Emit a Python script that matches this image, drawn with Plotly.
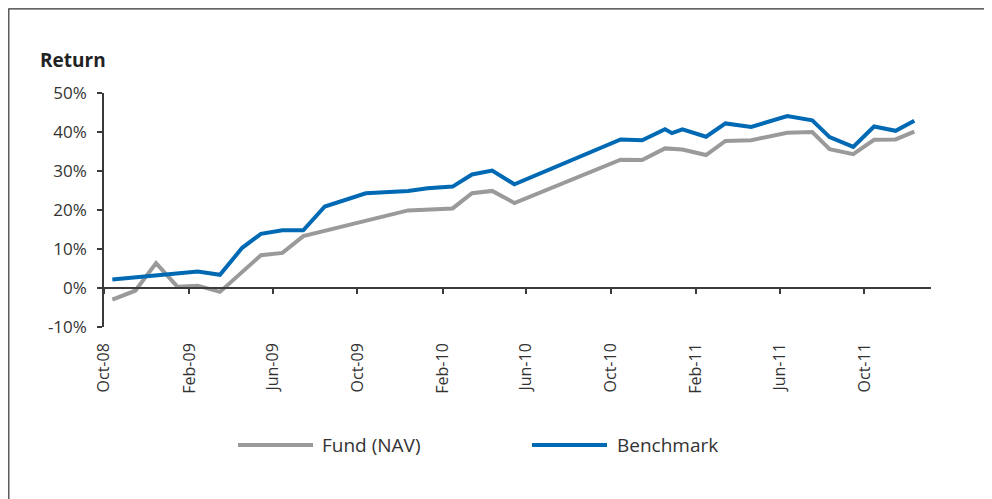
import plotly.graph_objects as go

# ---- data ----
dates = ["2008-10-13", "2008-11-15", "2008-12-15", "2009-01-15", "2009-02-13",
         "2009-03-17", "2009-04-18", "2009-05-15", "2009-06-15", "2009-07-15",
         "2009-08-15", "2009-10-13", "2009-12-13", "2010-01-10", "2010-02-15",
         "2010-03-15", "2010-04-13", "2010-05-15", "2010-10-15", "2010-11-15",
         "2010-12-18", "2010-12-28", "2011-01-12", "2011-02-15", "2011-03-15",
         "2011-04-21", "2011-06-12", "2011-07-18", "2011-08-12", "2011-09-15",
         "2011-10-15", "2011-11-15", "2011-12-12"]
fund_nav = [-3.0, -0.7, 6.4, 0.3, 0.6, -1.0, None, 8.4, 9.0, 13.3,
            None, None, 19.9, None, 20.4, 24.3, 24.9, 21.8, 32.9, 32.8,
            35.8, None, 35.5, 34.1, 37.7, 37.9, 39.8, 40.0, 35.6, 34.3,
            38.0, 38.1, 40.1]
benchmark = [2.2, None, None, None, 4.2, 3.4, 10.3, 13.9, 14.8, 14.8,
             20.9, 24.3, 24.9, 25.6, 26.0, 29.1, 30.1, 26.6, 38.1, 37.9,
             40.7, 39.7, 40.7, 38.8, 42.2, 41.3, 44.1, 43.0, 38.7, 36.2,
             41.4, 40.3, 42.9]
series_names = ["Fund (NAV)", "Benchmark"]
y_tickvals = [-10, 0, 10, 20, 30, 40, 50]
y_ticktext = ["-10%", "0%", "10%", "20%", "30%", "40%", "50%"]
y_title = "Return"

GRAY = "#9a9a9a"
BLUE = "#0069b4"
AXIS = "#3a3a3a"
TEXT = "#333333"
FONT = "Open Sans"

OFF = 8  # page body margin offset
W, H = 992, 499
PL, PT, PW, PH = 104, 93, 827, 234  # plot area in page pixels
L, T = PL - OFF, PT - OFF
R = W - L - PW
B = H - T - PH


def px_x(x):
    return (x - PL) / PW


def px_y(y):
    return (PT + PH - y) / PH


x_range = ["2008-10-01", "2012-01-05"]

fig = go.Figure()
fig.add_trace(go.Scatter(x=dates, y=fund_nav, name=series_names[0], mode="lines",
                         connectgaps=True, line=dict(color=GRAY, width=4),
                         showlegend=False))
fig.add_trace(go.Scatter(x=dates, y=benchmark, name=series_names[1], mode="lines",
                         connectgaps=True, line=dict(color=BLUE, width=4),
                         showlegend=False))
# invisible trace so the zero-crossing axis is drawn
fig.add_trace(go.Scatter(x=dates, y=benchmark, xaxis="x2", mode="lines",
                         connectgaps=True, line=dict(width=0), opacity=0,
                         hoverinfo="skip", showlegend=False))

fig.update_layout(
    width=W, height=H,
    margin=dict(l=L, r=R, t=T, b=B),
    paper_bgcolor="white", plot_bgcolor="white",
    font=dict(family=FONT, color=TEXT, size=16),
    xaxis=dict(type="date", range=x_range, tick0="2008-10-01", dtick="M4",
               tickformat="%b-%y", tickangle=-90, showline=False, showgrid=False,
               zeroline=False, ticks="", ticklabelstandoff=12,
               tickfont=dict(size=16, color=TEXT, family=FONT)),
    xaxis2=dict(type="date", range=x_range, tick0="2008-10-01", dtick="M4",
                overlaying="x", anchor="free", position=1 / 6,
                showticklabels=False, showline=True, linecolor=AXIS, linewidth=1.5,
                ticks="outside", ticklen=5, tickcolor=AXIS, tickwidth=1.5,
                showgrid=False, zeroline=False),
    yaxis=dict(range=[-10, 50], tickvals=y_tickvals, ticktext=y_ticktext,
               showline=True, linecolor=AXIS, linewidth=1.5, ticks="outside",
               ticklen=5, tickcolor=AXIS, tickwidth=1.5, showgrid=False,
               zeroline=False, ticklabelstandoff=7,
               tickfont=dict(size=17, color=TEXT, family=FONT)),
)

annotations = [
    dict(text="<b>" + y_title + "</b>", xref="paper", yref="paper",
         x=px_x(38), y=px_y(60), xanchor="left", yanchor="middle",
         showarrow=False, font=dict(size=19, color="#222222", family=FONT)),
    dict(text=series_names[0], xref="paper", yref="paper",
         x=px_x(320), y=px_y(445), xanchor="left", yanchor="middle",
         showarrow=False, font=dict(size=19, color=TEXT, family=FONT)),
    dict(text=series_names[1], xref="paper", yref="paper",
         x=px_x(615), y=px_y(445), xanchor="left", yanchor="middle",
         showarrow=False, font=dict(size=19, color=TEXT, family=FONT)),
]
shapes = [
    dict(type="rect", xref="paper", yref="paper", x0=px_x(OFF + 0.8), x1=px_x(986),
         y0=px_y(520), y1=px_y(OFF + 0.8), line=dict(color="#333333", width=1.2)),
    dict(type="line", xref="paper", yref="paper", x0=px_x(238), x1=px_x(313),
         y0=px_y(445), y1=px_y(445), line=dict(color=GRAY, width=4)),
    dict(type="line", xref="paper", yref="paper", x0=px_x(532), x1=px_x(607),
         y0=px_y(445), y1=px_y(445), line=dict(color=BLUE, width=4)),
]
fig.update_layout(annotations=annotations, shapes=shapes)

fig.write_html("out.html")
